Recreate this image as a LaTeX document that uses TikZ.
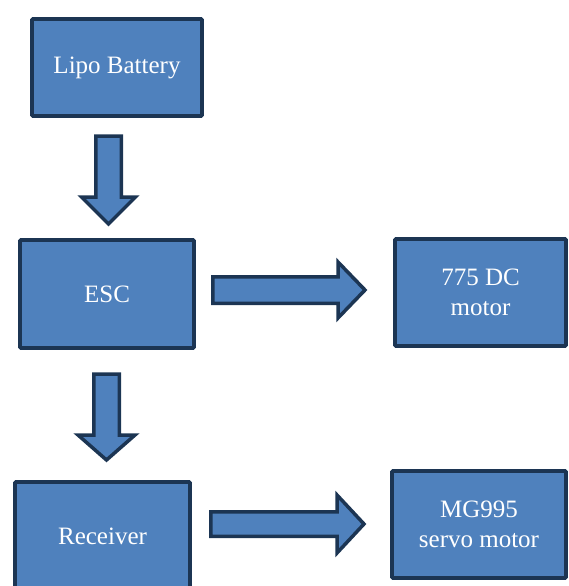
\documentclass[tikz,border=0pt]{standalone}
\usepackage{fontspec}
\setmainfont{Liberation Serif}
\usepackage{tikz}
\usetikzlibrary{calc}

\definecolor{boxfill}{HTML}{4F81BD}
\definecolor{boxline}{HTML}{1C3553}

\tikzset{
  block/.style={draw=boxline, fill=boxfill, line width=3.75pt, rounded corners=1pt,
    text=white, align=center, font=\fontsize{25}{30}\selectfont, inner sep=0pt},
  fatarrow/.style={draw=boxline, fill=boxfill, line width=3.5pt, line join=miter}
}

% block arrow from #1 to tip #2: shaft half width #3, head half width #4, head length #5
\newcommand{\blockarrow}[5]{%
  \path ($(#2)!#5!(#1)$) coordinate (hb);
  \draw[fatarrow] ($(#1)!#3!90:(#2)$) -- ($(hb)!#3!-90:(#1)$) -- ($(hb)!#4!-90:(#1)$)
    -- (#2) -- ($(hb)!#4!90:(#1)$) -- ($(hb)!#3!90:(#1)$) -- ($(#1)!#3!-90:(#2)$) -- cycle;
}

\begin{document}
\begin{tikzpicture}[x=1pt, y=-1pt]
      \useasboundingbox (0,0) rectangle (569,586);
      \clip (0,0) rectangle (569,586);

      % boxes
      \node[block, minimum width=170pt, minimum height=97pt] (lipo) at (117,67.5) {Lipo Battery};
      \node[block, minimum width=174pt, minimum height=108pt] (esc) at (107,294) {ESC};
      \node[block, minimum width=171pt, minimum height=107pt] (dcmotor) at (480.5,292.5) {775 DC\\motor};
      \node[block, minimum width=175pt, minimum height=108pt] (receiver) at (102.5,536) {Receiver};
      \node[block, minimum width=174pt, minimum height=107pt] (servo) at (479,524.5) {MG995\\servo motor};

      % arrow ends
      \coordinate (a1s) at (108.5,136);
      \coordinate (a1e) at (108.5,224);
      \coordinate (a2s) at ($(esc.east)+(17,-4)$);
      \coordinate (a2e) at (365,290);
      \coordinate (a3s) at (106.5,374);
      \coordinate (a3e) at (106.5,460);
      \coordinate (a4s) at ($(receiver.east)+(19,-12)$);
      \coordinate (a4e) at (364,524);

      \blockarrow{a1s}{a1e}{12.75pt}{27pt}{27pt}
      \blockarrow{a2s}{a2e}{13.25pt}{28pt}{27pt}
      \blockarrow{a3s}{a3e}{12.75pt}{28.5pt}{25pt}
      \blockarrow{a4s}{a4e}{12.25pt}{29pt}{27pt}
    \end{tikzpicture}
\end{document}
